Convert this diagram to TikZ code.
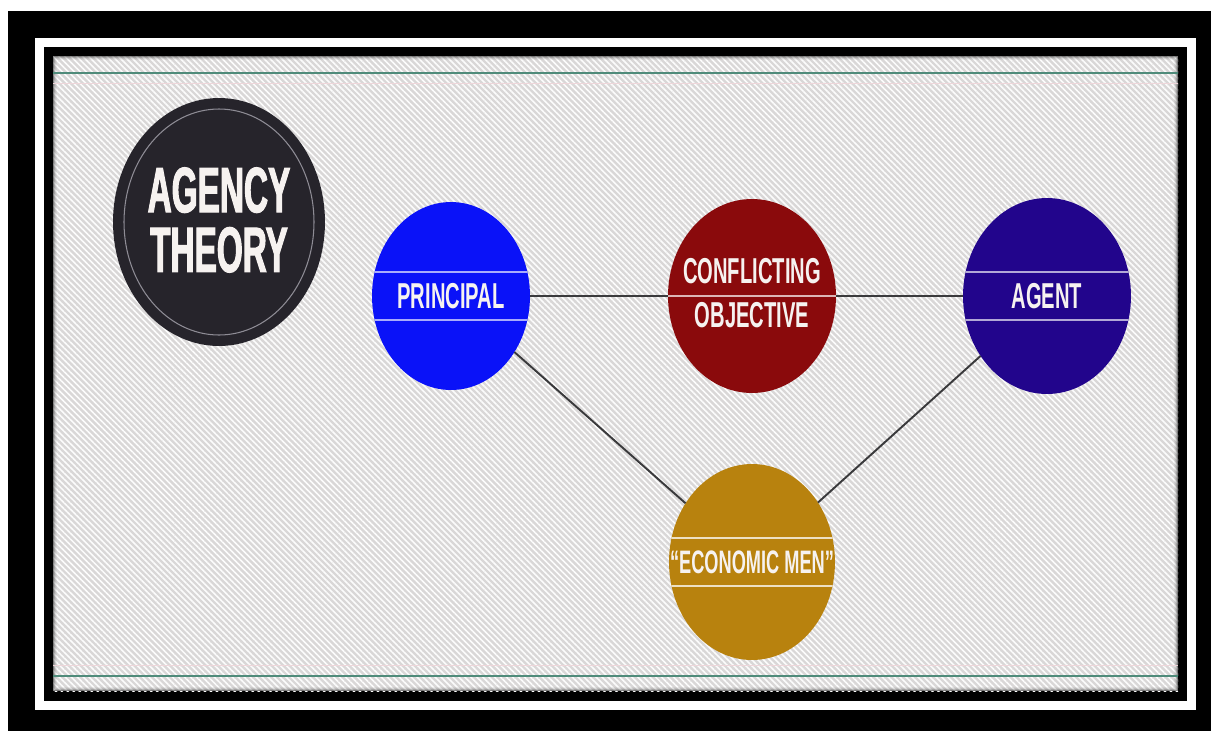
\documentclass[tikz,border=0pt]{standalone}
\usepackage{fontspec}
\usetikzlibrary{shapes.geometric,patterns.meta,calc}

\newfontfamily\titlefont[FakeStretch=0.52,FakeBold=1.6]{Liberation Sans}
\newfontfamily\labelfont[FakeStretch=0.56]{Liberation Sans}

\definecolor{panelgray}{HTML}{D9D7D7}
\definecolor{rulegreen}{HTML}{4F8B7A}
\definecolor{rulepink}{HTML}{EED6DA}
\definecolor{linkgray}{HTML}{3A3A3C}
\definecolor{agencydark}{HTML}{26242B}
\definecolor{ringgray}{HTML}{8E8C95}
\definecolor{principalblue}{HTML}{0A12F8}
\definecolor{conflictred}{HTML}{8A0A0C}
\definecolor{agentindigo}{HTML}{22058C}
\definecolor{econgold}{HTML}{B8820E}
\definecolor{labeltext}{HTML}{F6F2F0}

\tikzset{
  bubble/.style={ellipse,inner sep=0pt,outer sep=0pt},
  bubbletext/.style={text=labeltext,align=center,inner sep=0pt,
    font=\labelfont\bfseries\fontsize{20.5}{25.5}\selectfont},
  % two thin rules across a bubble, 24px above and below its centre
  band/.style={path picture={
    \draw[#1,line width=1.2pt]
      ($(path picture bounding box.west)+(0,-24)$) -- ($(path picture bounding box.east)+(0,-24)$)
      ($(path picture bounding box.west)+(0,24)$) -- ($(path picture bounding box.east)+(0,24)$);
  }},
  midband/.style={path picture={
    \draw[#1,line width=1.2pt]
      (path picture bounding box.west) -- (path picture bounding box.east);
  }},
  link/.style={draw=linkgray,line width=1.1pt}
}

\begin{document}
\begin{tikzpicture}[x=0.02cm,y=-0.02cm]
\useasboundingbox (0,0) rectangle (1211,731);
\fill[white] (0,0) rectangle (1211,731);

% frame: black, white, black
\fill[black] (8,11) rectangle (1211,731);
\fill[white] (35,38) rectangle (1196,710);
\fill[black] (44,47) rectangle (1187,701);

% striped panel
\fill[panelgray] (53,56) rectangle (1178,691);
\fill[pattern={Lines[angle=-45,distance=2.4pt,line width=0.9pt]},pattern color=white!92!panelgray]
  (53,56) rectangle (1178,691);
\foreach \d/\o in {0.5/0.45,1.5/0.25,2.5/0.12,3.5/0.05}
  \draw[black,opacity=\o,line width=0.6pt] (53+\d,56+\d) rectangle (1178-\d,691-\d);

% rules at top and bottom
\draw[rulegreen,line width=1.4pt] (53,73) -- (1178,73);
\draw[rulegreen,line width=1.4pt] (53,676) -- (1178,676);
\draw[rulepink,line width=0.5pt] (53,83) -- (1178,83);
\draw[rulepink,line width=0.5pt] (53,665) -- (1178,665);

% title badge
\node[bubble,fill=agencydark,minimum width=4.24cm,minimum height=4.96cm] (agency) at (219,222) {};
\draw[ringgray,line width=0.6pt] (agency.center) ellipse [x radius=95,y radius=113];
\node[text=labeltext,align=center,inner sep=0pt,
  font=\titlefont\bfseries\fontsize{36.5}{34}\selectfont] (agency-text) at (219,220) {AGENCY\\THEORY};

% the four bubbles
\node[bubble,fill=principalblue,band=principalblue!35!white,minimum width=3.16cm,minimum height=3.76cm] (principal) at (451,296) {};
\node[bubble,fill=conflictred,midband=conflictred!30!white,minimum width=3.36cm,minimum height=3.88cm] (conflict) at (752,296) {};
\node[bubble,fill=agentindigo,band=agentindigo!35!white,minimum width=3.36cm,minimum height=3.92cm] (agent) at (1047,296) {};
\node[bubble,fill=econgold,band=econgold!25!white,minimum width=3.32cm,minimum height=3.92cm] (econ) at (752,562) {};

\node[bubbletext] (principal-text) at (principal.center) {PRINCIPAL};
\node[bubbletext] (conflict-text) at (752,293) {CONFLICTING\\OBJECTIVE};
\node[bubbletext] (agent-text) at (agent.center) {AGENT};
\node[bubbletext,font=\labelfont\bfseries\fontsize{18.5}{22}\selectfont] (econ-text) at (econ.center) {“ECONOMIC MEN”};

% connectors
\draw[link] (principal) -- (conflict);
\draw[link] (conflict) -- (agent);
\draw[link] (principal) -- (econ);
\draw[link] (agent) -- (econ);
\end{tikzpicture}
\end{document}
